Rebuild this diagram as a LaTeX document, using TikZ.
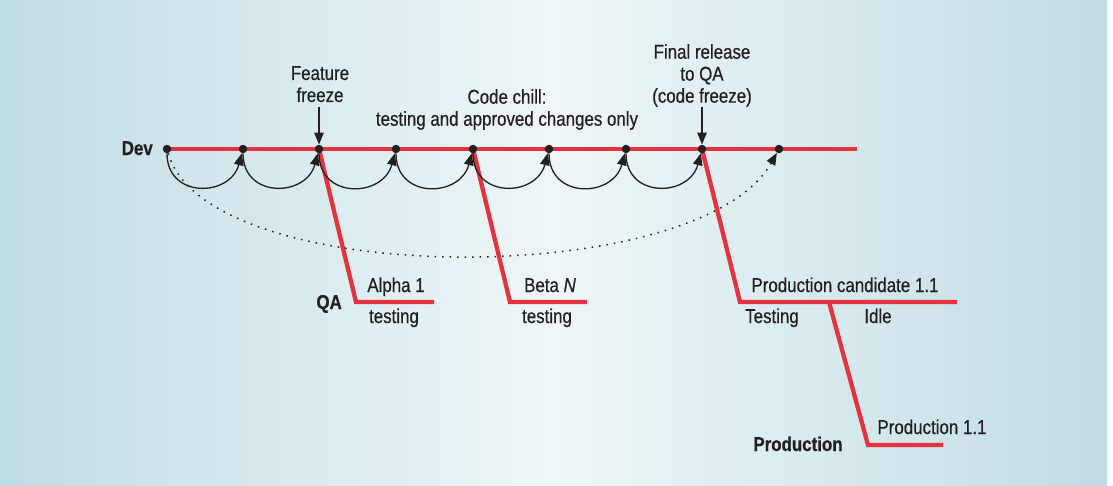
\documentclass[tikz,border=0pt]{standalone}
\usepackage{fontspec}
\setmainfont{Liberation Sans}[FakeStretch=0.845, FakeBold=0.5]
\usetikzlibrary{arrows.meta}
\definecolor{bgL}{RGB}{192,221,227}
\definecolor{bgM}{RGB}{238,246,248}
\definecolor{devred}{RGB}{228,50,62}
\definecolor{ink}{RGB}{35,31,32}
\begin{document}
\begin{tikzpicture}[x=1pt,y=1pt,
  lbl/.style={font=\fontsize{20}{22}\selectfont, text=ink, inner sep=0pt, align=center},
  blbl/.style={font=\fontsize{20}{22}\selectfont\bfseries, text=ink, inner sep=0pt},
  dot/.style={circle, fill=ink, inner sep=0pt, minimum size=8.5pt},
  redline/.style={draw=devred, line width=4.3pt},
  hop/.style={draw=ink, line width=1.3pt, -{Triangle[length=12pt,width=9.5pt]}},
  dotarc/.style={draw=ink, line width=1.5pt, dash pattern=on 1.5pt off 6pt, -{Triangle[length=12pt,width=9.5pt]}},
  ptr/.style={draw=ink, line width=1.3pt, -{Triangle[length=12pt,width=9.5pt]}}
]
\useasboundingbox (0,0) rectangle (1113,-485);
\fill[white] (0,0) rectangle (1113,-485);
\shade[left color=bgL, right color=bgL, middle color=bgM] (0,0) rectangle (1107,-485);

% dots on the Dev line
\foreach \i/\x in {1/167,2/243,3/319,4/396,5/473,6/549,7/626,8/702,9/779}
  \coordinate (c\i) at (\x,-149);
\coordinate (devend) at (857,-149);
\coordinate (qa1) at (356,-302);
\coordinate (qa2) at (434,-302);
\coordinate (b1) at (510,-302);
\coordinate (b2) at (587,-302);
\coordinate (p1) at (740,-302);
\coordinate (p2) at (957,-302);
\coordinate (p3) at (829,-302);
\coordinate (pr1) at (868,-445);
\coordinate (pr2) at (943,-445);

% red lines
\draw[redline] (c1) -- (devend);
\draw[redline] (c3) -- (qa1) -- (qa2);
\draw[redline] (c5) -- (b1) -- (b2);
\draw[redline] (c8) -- (p1) -- (p2);
\draw[redline] (p3) -- (pr1) -- (pr2);

\foreach \i in {1,...,9}
  \node[dot] (d\i) at (c\i) {};

% hops
\foreach \a/\b in {1/2,2/3,3/4,4/5,5/6,6/7,7/8}
  \draw[hop] (d\a) to[out=-90,in=-105,looseness=1.55] (d\b);
\draw[dotarc] (d1) .. controls +(40,-141) and +(-79,-141) .. (d9);

% top labels
\node[lbl, anchor=north] (ffl) at (320,-66) {Feature\\freeze};
\node[lbl, anchor=north] (ccl) at (507,-89) {Code chill:\\testing and approved changes only};
\node[lbl, anchor=north] (frl) at (702,-44) {Final release\\to QA\\(code freeze)};
\coordinate (ffa) at (319,-107);
\coordinate (fra) at (702,-107);
\draw[ptr] (ffa) -- (d3);
\draw[ptr] (fra) -- (d8);

% side labels
\node[blbl, anchor=base east] (dev) at (153,-155) {Dev};
\node[blbl, anchor=base east] (qa) at (342,-309) {QA};
\node[blbl, anchor=base] (prod) at (798,-451) {Production};

% branch labels
\node[lbl, anchor=base] (alpha) at (396,-292) {Alpha 1};
\node[lbl, anchor=base] (at) at (394,-323) {testing};
\node[lbl, anchor=base] (beta) at (550,-292) {Beta \textit{N}};
\node[lbl, anchor=base] (bt) at (547,-323) {testing};
\node[lbl, anchor=base] (pc) at (845,-292) {Production candidate 1.1};
\node[lbl, anchor=base] (pct) at (772,-323) {Testing};
\node[lbl, anchor=base] (idle) at (878,-323) {Idle};
\node[lbl, anchor=base] (p11) at (932,-434) {Production 1.1};
\end{tikzpicture}
\end{document}
